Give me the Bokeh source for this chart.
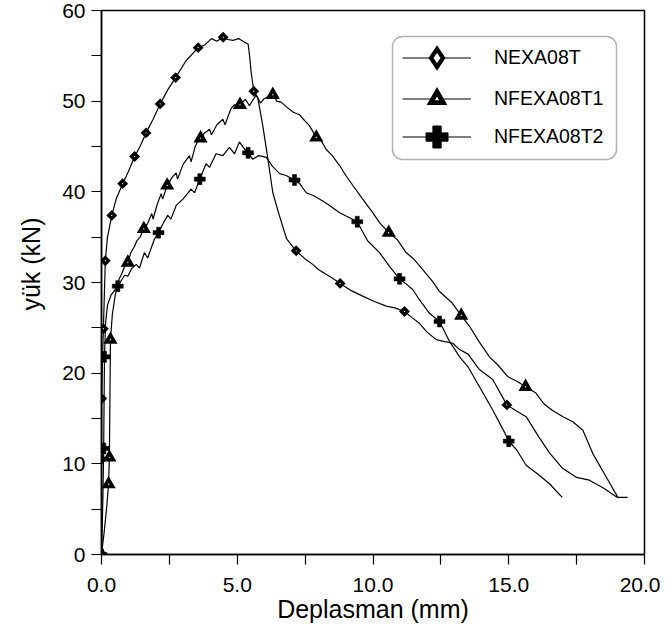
import math
from bokeh.plotting import figure
from bokeh.models import (Range1d, FixedTicker, Legend, LegendItem, Title, BoxAnnotation)
from bokeh.embed import file_html
from bokeh.resources import INLINE

# ---------------- data ----------------
# NEXA08T (diamonds)
nexa_x = [0, 0.0, 0.01, 0.03, 0.07, 0.14, 0.22, 0.38, 0.55, 0.78, 1.0, 1.22, 1.42, 1.64, 1.9, 2.16,
          2.45, 2.73, 3.1, 3.56, 3.8, 4.05, 4.25, 4.48, 4.65, 4.84, 5.05, 5.27, 5.4, 5.45, 5.52, 5.61,
          5.76, 5.94, 6.13, 6.31, 6.56, 6.82, 7.17, 7.5, 7.78, 8.0, 8.27, 8.5, 8.79, 9.2, 9.62, 10.05,
          10.49, 10.8, 11.16, 11.45, 11.71, 12.0, 12.33, 12.6, 12.94, 13.19, 13.5, 13.92, 14.41, 14.93,
          15.3, 15.64, 16.1, 16.5, 16.98, 17.5, 17.97, 18.5, 19.0]
nexa_y = [0, 10.5, 17.2, 21.0, 24.9, 32.4, 35.0, 37.4, 39.3, 40.9, 42.3, 43.9, 45.0, 46.5, 48.0, 49.7,
          51.3, 52.6, 54.4, 55.9, 56.2, 56.9, 56.6, 57.05, 56.8, 56.7, 56.9, 56.5, 56.3, 55.1, 53.0, 51.1,
          50.3, 47.3, 43.6, 39.9, 37.3, 34.8, 33.5, 32.6, 32.0, 31.4, 30.9, 30.5, 29.9, 29.1, 28.5, 27.9,
          27.4, 27.2, 26.8, 26.1, 25.5, 24.5, 23.7, 23.5, 23.3, 22.6, 22.1, 20.4, 19.3, 16.5,
          15.8, 15.2, 13.0, 11.2, 9.5, 8.5, 8.2, 7.3, 6.3]
nexa_mx = [0, 0.0, 0.01, 0.07, 0.14, 0.38, 0.78, 1.22, 1.64, 2.16, 2.73, 3.56, 4.48, 5.61, 7.17, 8.79, 11.16, 14.93]
nexa_my = [0, 10.5, 17.2, 24.9, 32.4, 37.4, 40.9, 43.9, 46.5, 49.7, 52.6, 55.9, 57.05, 51.1, 33.5, 29.9, 26.8, 16.5]

# NFEXA08T1 (triangles)
nf1_x = [0, 0.1, 0.2, 0.26, 0.29, 0.31, 0.33, 0.4, 0.5, 0.62, 0.75, 0.85, 0.97, 1.08, 1.22, 1.3, 1.42,
         1.56, 1.7, 1.85, 1.9, 2.05, 2.2, 2.25, 2.42, 2.6, 2.75, 2.8, 3.0, 3.24, 3.3, 3.45, 3.61, 3.65,
         3.8, 3.98, 4.05, 4.25, 4.47, 4.55, 4.77, 4.9, 5.1, 5.3, 5.45, 5.57, 5.7, 5.85, 6.0, 6.15, 6.34,
         6.45, 6.62, 6.8, 7.05, 7.29, 7.5, 7.66, 7.91, 8.1, 8.27, 8.5, 8.77, 9.0, 9.26, 9.62, 9.99,
         10.24, 10.58, 10.9, 11.22, 11.5, 11.84, 12.2, 12.45, 12.9, 13.25, 13.55, 13.9, 14.29, 14.6,
         14.97, 15.3, 15.62, 16.0, 16.3, 16.6, 17.0, 17.36, 17.73, 18.1, 18.59, 19.02, 19.38]
nf1_y = [0, 2.5, 5.5, 7.75, 10.7, 17.0, 23.7, 26.5, 28.5, 30.2, 31.0, 31.8, 32.2, 33.3, 34.0, 34.6, 35.0,
         35.9, 36.5, 37.6, 37.0, 38.6, 39.8, 39.2, 40.7, 41.6, 42.1, 41.4, 43.0, 44.0, 43.3, 45.0, 46.0, 45.9,
         46.5, 46.9, 46.3, 47.4, 48.0, 47.4, 49.2, 49.6, 49.6, 50.2, 49.5, 50.1, 50.7, 49.8, 50.3, 50.5, 50.8,
         50.0, 49.9, 49.4, 48.8, 48.5, 47.8, 47.3, 46.0, 45.6, 44.7, 44.0, 42.9, 41.8, 40.7, 39.2, 37.7,
         36.6, 35.5, 34.7, 33.3, 32.6, 31.4, 30.1, 29.0, 27.8, 26.35, 25.2, 23.5, 21.8, 20.9,
         19.6, 19.1, 18.5, 17.8, 16.6, 15.9, 15.2, 14.65, 13.7, 11.1, 8.55, 6.3, 6.3]
nf1_mx = [0, 0.26, 0.29, 0.33, 0.97, 1.56, 2.42, 3.65, 5.1, 6.31, 7.91, 10.58, 13.25, 15.62]
nf1_my = [0, 7.75, 10.7, 23.7, 32.2, 35.9, 40.7, 45.9, 49.6, 50.7, 46.0, 35.5, 26.35, 18.5]

# NFEXA08T2 (plus)
nf2_x = [0, 0.05, 0.08, 0.11, 0.15, 0.22, 0.35, 0.6, 0.85, 0.97, 1.1, 1.28, 1.4, 1.58, 1.7, 1.95, 2.1,
         2.32, 2.44, 2.56, 2.75, 3.0, 3.3, 3.43, 3.62, 3.85, 3.98, 4.22, 4.47, 4.71, 4.9, 5.08, 5.27, 5.4,
         5.57, 5.8, 6.07, 6.3, 6.56, 6.8, 7.11, 7.3, 7.54, 7.8, 8.15, 8.4, 8.77, 9.1, 9.42, 9.6, 9.8,
         10.24, 10.6, 10.98, 11.2, 11.47, 11.71, 12.08, 12.45, 12.82, 13.19, 13.5, 13.92, 14.4, 14.84,
         15.0, 15.3, 15.64, 16.1, 16.5, 16.97]
nf2_y = [0, 6.0, 11.7, 21.8, 25.5, 27.5, 28.6, 29.6, 30.8, 30.7, 31.5, 32.0, 31.6, 33.3, 32.7, 34.8, 35.5,
         36.8, 37.4, 37.0, 38.5, 39.2, 40.3, 39.9, 41.4, 43.1, 42.7, 44.2, 44.0, 44.9, 44.2, 45.5, 44.7, 44.3,
         43.6, 44.0, 43.8, 42.8, 42.0, 41.8, 41.3, 40.9, 39.9, 39.6, 39.0, 38.5, 37.7, 37.2, 36.7, 35.7, 34.6,
         33.3, 31.8, 30.4, 29.9, 29.2, 28.1, 26.6, 25.7, 23.5, 21.8, 20.7, 18.5, 16.0, 13.5,
         12.5, 11.5, 9.85, 8.8, 7.8, 6.3]
nf2_mx = [0, 0.08, 0.11, 0.6, 2.1, 3.62, 5.4, 7.11, 9.42, 10.98, 12.45, 15.0]
nf2_my = [0, 11.7, 21.8, 29.6, 35.5, 41.4, 44.3, 41.3, 36.7, 30.4, 25.7, 12.5]

series_names = ["NEXA08T", "NFEXA08T1", "NFEXA08T2"]
x_ticks = [0, 5, 10, 15, 20]
x_tick_labels = ["0.0", "5.0", "10.0", "15.0", "20.0"]
x_minor = [2.5, 7.5, 12.5, 17.5]
y_ticks = [0, 10, 20, 30, 40, 50, 60]
y_minor = [5, 15, 25, 35, 45, 55]

FONT = "Liberation Sans"

p = figure(width=660, height=632, output_backend="svg", toolbar_location=None,
           x_range=Range1d(0, 20), y_range=Range1d(0, 60),
           min_border_left=101, min_border_right=16, min_border_top=10, min_border_bottom=78)
p.xgrid.visible = False
p.ygrid.visible = False
p.outline_line_color = "black"
p.outline_line_width = 1.5
p.background_fill_color = "white"
p.border_fill_color = "white"

for ax in (p.xaxis[0], p.yaxis[0]):
    ax.axis_line_color = "black"
    ax.axis_line_width = 1.5
    ax.major_tick_line_color = "black"
    ax.minor_tick_line_color = "black"
    ax.major_tick_line_width = 1.2
    ax.minor_tick_line_width = 1.2
    ax.major_tick_in = 0
    ax.major_tick_out = 10
    ax.minor_tick_in = 0
    ax.minor_tick_out = 10
    ax.major_label_text_font = FONT
    ax.major_label_text_font_size = "21px"
    ax.major_label_text_color = "black"

p.xaxis[0].ticker = FixedTicker(ticks=x_ticks, minor_ticks=x_minor)
p.xaxis[0].major_label_overrides = {t: l for t, l in zip(x_ticks, x_tick_labels)}
p.xaxis[0].major_label_standoff = 13
p.xaxis[0].axis_label = "Deplasman (mm)"
p.xaxis[0].axis_label_text_font = FONT
p.xaxis[0].axis_label_text_font_size = "25px"
p.xaxis[0].axis_label_text_font_style = "normal"
p.xaxis[0].axis_label_text_color = "black"
p.xaxis[0].axis_label_standoff = 0

p.yaxis[0].ticker = FixedTicker(ticks=y_ticks, minor_ticks=y_minor)
p.yaxis[0].major_label_standoff = 6

ytitle = Title(text="yük (kN)", align="right", offset=207, vertical_align="middle",
               standoff=28, text_font=FONT, text_font_size="25px",
               text_font_style="normal", text_color="black")
p.add_layout(ytitle, "left")

LW = 1.2
# data lines
p.line(nexa_x, nexa_y, line_color="black", line_width=LW)
p.line(nf1_x, nf1_y, line_color="black", line_width=LW)
p.line(nf2_x, nf2_y, line_color="black", line_width=LW)

# data markers
p.scatter(nexa_mx, nexa_my, marker="square", angle=math.pi / 4, size=4.4,
          fill_color="white", line_color="black", line_width=3.3, line_join="miter")
p.scatter(nf1_mx, nf1_my, marker="triangle", size=8,
          fill_color="white", line_color="black", line_width=3.6, line_join="miter")
p.scatter(nf2_mx, nf2_my, marker="plus", size=11,
          fill_color="black", line_color="black", line_width=0.5)

# ---------------- legend ----------------
# rounded frame of the legend (screen units, relative to the plot frame)
box = BoxAnnotation(left=291, right=515, bottom=395, top=518,
                    left_units="screen", right_units="screen",
                    bottom_units="screen", top_units="screen",
                    fill_color="white", fill_alpha=1.0,
                    line_color="black", line_width=1.5, editable=False)
if "border_radius" in BoxAnnotation.properties():
    box.border_radius = 10
p.add_layout(box)

# legend-only renderers (placed outside the visible ranges)
OFF_X = [-100, -99]
OFF_Y = [-100, -99]
l1 = p.line(OFF_X, OFF_Y, line_color="black", line_width=1.2)
m1 = p.scatter(OFF_X[:1], OFF_Y[:1], marker="diamond",
               fill_color="white", line_color="black", line_width=4.2, line_join="miter")
l2 = p.line(OFF_X, OFF_Y, line_color="black", line_width=1.2)
m2 = p.scatter(OFF_X[:1], OFF_Y[:1], marker="triangle",
               fill_color="white", line_color="black", line_width=4.8, line_join="miter")
l3 = p.line(OFF_X, OFF_Y, line_color="black", line_width=1.2)
m3 = p.scatter(OFF_X[:1], OFF_Y[:1], marker="plus",
               fill_color="black", line_color="black", line_width=1)

# one legend per row, so that each row may get its own marker size
rows = [
    (series_names[0], [l1, m1], 45, 58),
    (series_names[1], [l2, m2], 31, 98),
    (series_names[2], [l3, m3], 55, 137),
]
FRAME_BOTTOM = 554
for label, rends, gh, yc in rows:
    lg = Legend(items=[LegendItem(label=label, renderers=rends)],
                location=(301, int(round(FRAME_BOTTOM - yc - gh / 2))), orientation="vertical",
                glyph_width=69, glyph_height=gh, label_height=20, spacing=0,
                padding=0, margin=0, label_standoff=23,
                label_text_font=FONT, label_text_font_size="19.5px", label_text_color="black",
                border_line_color=None, background_fill_alpha=0.0)
    p.add_layout(lg, "center")

open("out.html", "w").write(file_html(p, INLINE))
